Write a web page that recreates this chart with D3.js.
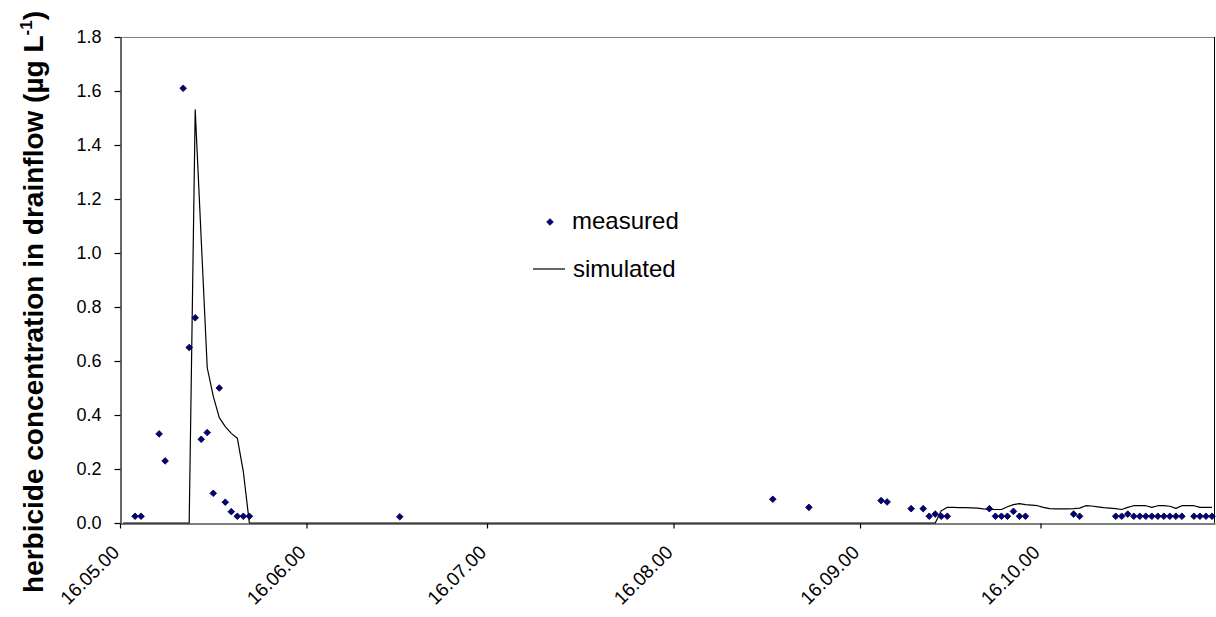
<!DOCTYPE html>
<html>
<head>
<meta charset="utf-8">
<script src="https://cdn.jsdelivr.net/npm/d3@7"></script>
<style>
  html, body { margin: 0; padding: 0; background: #fff; }
  svg { display: block; font-family: Arial, "Liberation Sans", sans-serif; }
</style>
</head>
<body>
<svg id="chart" width="1216" height="617"></svg>
<script>
// Measured herbicide concentrations in drainflow (µg/L), one sample per day
const measuredDates = [
  "2000-05-18","2000-05-19","2000-05-22","2000-05-23","2000-05-26","2000-05-27",
  "2000-05-28","2000-05-29","2000-05-30","2000-05-31","2000-06-01","2000-06-02",
  "2000-06-03","2000-06-04","2000-06-05","2000-06-06","2000-07-01",
  "2000-09-01","2000-09-07","2000-09-19","2000-09-20","2000-09-24","2000-09-26",
  "2000-09-27","2000-09-28","2000-09-29","2000-09-30",
  "2000-10-07","2000-10-08","2000-10-09","2000-10-10","2000-10-11","2000-10-12",
  "2000-10-13","2000-10-21","2000-10-22","2000-10-28","2000-10-29","2000-10-30",
  "2000-10-31","2000-11-01","2000-11-02","2000-11-03","2000-11-04","2000-11-05",
  "2000-11-06","2000-11-07","2000-11-08","2000-11-10","2000-11-11","2000-11-12",
  "2000-11-13"
];
const measuredValues = [
  0.025, 0.025, 0.33, 0.23, 1.61, 0.65,
  0.76, 0.31, 0.335, 0.11, 0.50, 0.077,
  0.042, 0.025, 0.025, 0.025, 0.023,
  0.088, 0.058, 0.083, 0.078, 0.053, 0.053,
  0.025, 0.033, 0.025, 0.025,
  0.053, 0.025, 0.025, 0.025, 0.043, 0.025,
  0.025, 0.033, 0.025, 0.025, 0.025, 0.033,
  0.025, 0.025, 0.025, 0.025, 0.025, 0.025,
  0.025, 0.025, 0.025, 0.025, 0.025, 0.025,
  0.025
];

// Simulated concentrations (model output, daily)
const simulatedDates = [
  "2000-05-16","2000-05-27","2000-05-28","2000-05-29","2000-05-30","2000-05-31",
  "2000-06-01","2000-06-02","2000-06-03","2000-06-04","2000-06-05","2000-06-06",
  "2000-09-28","2000-09-29","2000-09-30","2000-10-01","2000-10-02","2000-10-03",
  "2000-10-04","2000-10-05","2000-10-06","2000-10-07","2000-10-08","2000-10-09",
  "2000-10-10","2000-10-11","2000-10-12","2000-10-13","2000-10-14","2000-10-15",
  "2000-10-16","2000-10-17","2000-10-18","2000-10-19","2000-10-20","2000-10-21",
  "2000-10-22","2000-10-23","2000-10-24","2000-10-25","2000-10-26","2000-10-27",
  "2000-10-28","2000-10-29","2000-10-30","2000-10-31","2000-11-01","2000-11-02",
  "2000-11-03","2000-11-04","2000-11-05","2000-11-06","2000-11-07","2000-11-08",
  "2000-11-09","2000-11-10","2000-11-11","2000-11-12","2000-11-13"
];
const simulatedValues = [
  0, 0, 1.53, 1.05, 0.575, 0.47,
  0.39, 0.357, 0.332, 0.314, 0.19, 0,
  0, 0.045, 0.058, 0.058, 0.057, 0.057,
  0.056, 0.055, 0.052, 0.050, 0.050, 0.050,
  0.060, 0.068, 0.072, 0.068, 0.066, 0.064,
  0.058, 0.053, 0.052, 0.052, 0.052, 0.053,
  0.055, 0.064, 0.063, 0.060, 0.057, 0.055,
  0.053, 0.050, 0.058, 0.064, 0.064, 0.064,
  0.058, 0.064, 0.064, 0.062, 0.054, 0.064,
  0.064, 0.064, 0.058, 0.058, 0.058
];

// Axis definitions
const xDomain = ["2000-05-16", "2000-11-14"];
const xTickDates = ["2000-05-16","2000-06-16","2000-07-16","2000-08-16","2000-09-16","2000-10-16"];
const yTicks = [0, 0.2, 0.4, 0.6, 0.8, 1.0, 1.2, 1.4, 1.6, 1.8];

const legendLabels = ["measured", "simulated"];
const yTitle = "herbicide concentration in drainflow (µg L";
const yTitleSup = "-1";

const parse = d3.utcParse("%Y-%m-%d");
const fmt = d3.utcFormat("%d.%m.%y");

const plot = { left: 120, right: 1215, top: 37, bottom: 523 };

const svg = d3.select("#chart");

const x = d3.scaleUtc()
  .domain(xDomain.map(parse))
  .range([plot.left, plot.right]);

const y = d3.scaleLinear()
  .domain([0, 1.8])
  .range([plot.bottom, plot.top]);

// each daily value sits in the middle of its day slot
const xMid = d => x(d3.utcHour.offset(d, 12));

const measured = measuredDates.map((d, i) => ({ date: parse(d), value: measuredValues[i] }));
const simulated = simulatedDates.map((d, i) => ({ date: parse(d), value: simulatedValues[i] }));

// plot frame (top and right)
svg.append("line")
  .attr("x1", plot.left).attr("x2", plot.right)
  .attr("y1", plot.top + 0.5).attr("y2", plot.top + 0.5)
  .attr("stroke", "#808080").attr("stroke-width", 1);
svg.append("line")
  .attr("x1", plot.right - 0.5).attr("x2", plot.right - 0.5)
  .attr("y1", plot.top).attr("y2", plot.bottom)
  .attr("stroke", "#000").attr("stroke-width", 1);

// simulated line
svg.append("path")
  .datum(simulated)
  .attr("fill", "none")
  .attr("stroke", "#000")
  .attr("stroke-width", 1.2)
  .attr("stroke-linejoin", "round")
  .attr("d", d3.line().x(d => xMid(d.date)).y(d => y(d.value)));

// y axis
const yAxis = svg.append("g")
  .attr("transform", `translate(${plot.left + 0.5},0)`)
  .call(d3.axisLeft(y).tickValues(yTicks).tickFormat(d3.format(".1f")).tickSize(6).tickSizeOuter(0).tickPadding(13));
yAxis.select(".domain").attr("stroke", "#000").attr("stroke-width", 1.2);
yAxis.selectAll(".tick line").attr("stroke", "#000").attr("stroke-width", 1.2);
yAxis.selectAll(".tick text")
  .attr("font-size", 18)
  .attr("font-family", "Arial, 'Liberation Sans', sans-serif")
  .attr("fill", "#000");

// x axis
const xAxis = svg.append("g")
  .attr("transform", `translate(0,${plot.bottom + 0.5})`)
  .call(d3.axisBottom(x).tickValues(xTickDates.map(parse)).tickFormat(fmt).tickSize(5).tickSizeOuter(0));
xAxis.select(".domain").attr("stroke", "#000").attr("stroke-width", 1.2);
xAxis.selectAll(".tick line").attr("stroke", "#000").attr("stroke-width", 1.2);
xAxis.selectAll(".tick text")
  .attr("font-size", 19)
  .attr("font-family", "Arial, 'Liberation Sans', sans-serif")
  .attr("fill", "#000")
  .attr("x", 0).attr("y", 0).attr("dy", 0)
  .attr("text-anchor", "end")
  .attr("transform", "translate(0,30) rotate(-45)");

// measured points (diamonds)
const diamond = d3.symbol(d3.symbolSquare, 22);
svg.append("g")
  .selectAll("path")
  .data(measured)
  .join("path")
  .attr("d", diamond)
  .attr("transform", d => `translate(${xMid(d.date)},${y(d.value)}) rotate(45)`)
  .attr("fill", "#000080")
  .attr("stroke", "#000033")
  .attr("stroke-width", 0.8);

// legend
const legend = svg.append("g");
legend.append("path")
  .attr("d", diamond)
  .attr("transform", "translate(550,222) rotate(45)")
  .attr("fill", "#000080")
  .attr("stroke", "#000033")
  .attr("stroke-width", 0.8);
legend.append("text")
  .attr("x", 572).attr("y", 229)
  .attr("font-size", 24)
  .attr("fill", "#000")
  .text(legendLabels[0]);
legend.append("line")
  .attr("x1", 533).attr("x2", 565)
  .attr("y1", 269).attr("y2", 269)
  .attr("stroke", "#000").attr("stroke-width", 1.2);
legend.append("text")
  .attr("x", 573).attr("y", 277)
  .attr("font-size", 24)
  .attr("fill", "#000")
  .text(legendLabels[1]);

// y axis title
const title = svg.append("text")
  .attr("transform", "translate(43,302) rotate(-90)")
  .attr("text-anchor", "middle")
  .attr("font-size", 28)
  .attr("font-weight", "bold")
  .attr("fill", "#000");
title.append("tspan").text(yTitle);
title.append("tspan")
  .attr("font-size", 17)
  .attr("dy", -11)
  .text(yTitleSup);
title.append("tspan")
  .attr("dy", 11)
  .text(")");
</script>
</body>
</html>
